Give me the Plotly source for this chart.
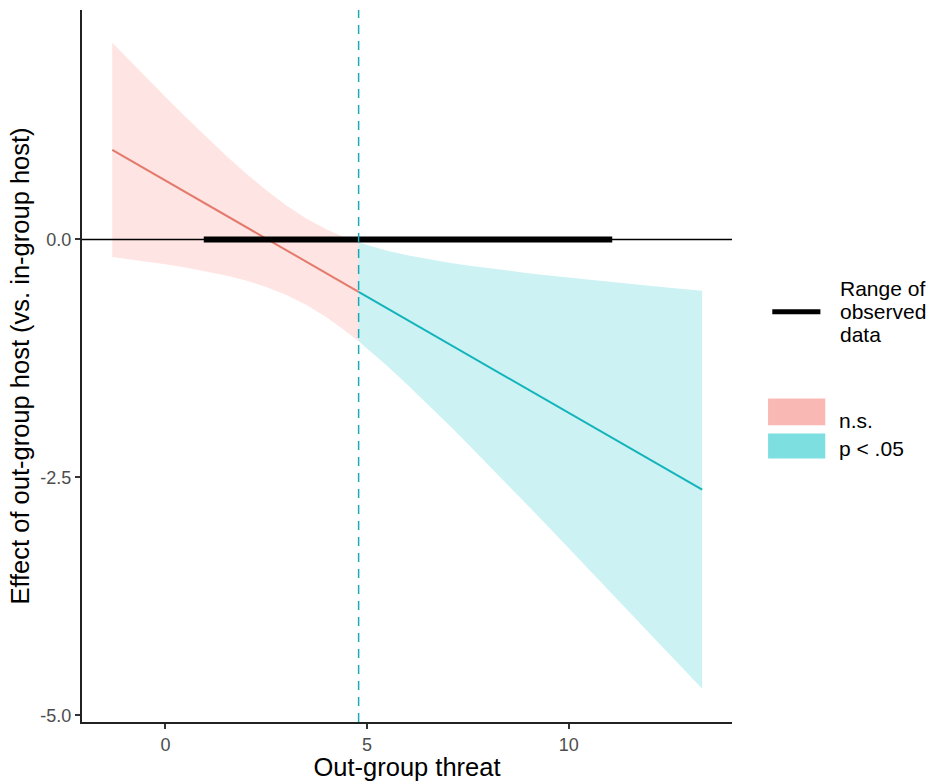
import plotly.graph_objects as go

# --- data ---
# non-significant region (n.s.)
ns_x     = [-1.32, -1.0, -0.5, 0.0, 0.5, 1.0, 1.5, 2.0, 2.5, 3.0, 3.5, 4.0, 4.4, 4.79]
ns_est   = [0.940, 0.862, 0.740, 0.618, 0.496, 0.374, 0.252, 0.130, 0.008, -0.114, -0.236, -0.358, -0.456, -0.551]
ns_lower = [-0.185, -0.202, -0.230, -0.261, -0.295, -0.333, -0.378, -0.433, -0.500, -0.584, -0.690, -0.820, -0.941, -1.070]
ns_upper = [2.065, 1.926, 1.710, 1.497, 1.287, 1.081, 0.882, 0.693, 0.516, 0.356, 0.218, 0.104, 0.029, -0.032]

# significant region (p < .05)
sig_x     = [4.79, 5.5, 6.0, 6.5, 7.0, 7.5, 8.0, 8.5, 9.0, 9.5, 10.0, 10.5, 11.0, 11.5, 12.0, 12.5, 13.31]
sig_est   = [-0.551, -0.724, -0.846, -0.968, -1.090, -1.212, -1.334, -1.456, -1.578, -1.700, -1.822, -1.944, -2.066, -2.188, -2.310, -2.432, -2.630]
sig_lower = [-1.070, -1.330, -1.526, -1.729, -1.938, -2.150, -2.365, -2.582, -2.801, -3.021, -3.242, -3.464, -3.686, -3.909, -4.133, -4.357, -4.720]
sig_upper = [-0.032, -0.118, -0.166, -0.207, -0.242, -0.274, -0.303, -0.330, -0.355, -0.379, -0.402, -0.424, -0.446, -0.467, -0.487, -0.507, -0.540]

jn_point = 4.79                 # Johnson-Neyman boundary
observed_range = [0.95, 11.08]  # range of observed moderator data
x_ticks = [0, 5, 10]
y_ticks = [-5.0, -2.5, 0.0]
y_tick_labels = ["-5.0", "-2.5", "0.0"]
x_range = [-2.07, 14.05]
y_range = [-5.07, 2.41]
legend_range_lines = ["Range of", "observed", "data"]
legend_sig_labels = ["n.s.", "p &lt; .05"]

FONT = "Liberation Sans, Arial, sans-serif"

fig = go.Figure()

# ribbons
fig.add_trace(go.Scatter(
    x=ns_x + ns_x[::-1], y=ns_upper + ns_lower[::-1],
    fill="toself", fillcolor="rgba(248,118,109,0.2)",
    line=dict(width=0), mode="lines", hoverinfo="skip", showlegend=False))
fig.add_trace(go.Scatter(
    x=sig_x + sig_x[::-1], y=sig_upper + sig_lower[::-1],
    fill="toself", fillcolor="rgba(0,191,196,0.2)",
    line=dict(width=0), mode="lines", hoverinfo="skip", showlegend=False))

# zero reference line
fig.add_trace(go.Scatter(
    x=x_range, y=[0, 0], mode="lines",
    line=dict(color="black", width=1.5), hoverinfo="skip", showlegend=False))

# estimate lines
fig.add_trace(go.Scatter(
    x=ns_x, y=ns_est, mode="lines",
    line=dict(color="#E47A6C", width=2), showlegend=False))
fig.add_trace(go.Scatter(
    x=sig_x, y=sig_est, mode="lines",
    line=dict(color="#13B4BB", width=2), showlegend=False))

# observed data range bar
fig.add_trace(go.Scatter(
    x=observed_range, y=[0, 0], mode="lines",
    line=dict(color="black", width=6), showlegend=False))

# Johnson-Neyman dashed line
fig.add_shape(type="line", xref="x", yref="paper", x0=jn_point, x1=jn_point,
              y0=0, y1=1, line=dict(color="#1AAAB5", width=1.5, dash="9px,7px"),
              layer="above")

# custom legend
fig.add_shape(type="line", xref="paper", yref="paper",
              x0=1.062, x1=1.136, y0=0.5762, y1=0.5762,
              line=dict(color="black", width=5))
for i, txt in enumerate(legend_range_lines):
    fig.add_annotation(xref="paper", yref="paper", x=1.163, y=0.6085 - i * 0.0323,
                       text=txt, showarrow=False,
                       xanchor="left", yanchor="middle", align="left",
                       font=dict(family=FONT, size=21, color="black"))
fig.add_shape(type="rect", xref="paper", yref="paper",
              x0=1.0555, x1=1.1435, y0=0.4169, y1=0.4545,
              fillcolor="#F9B8B4", line=dict(width=0))
fig.add_shape(type="rect", xref="paper", yref="paper",
              x0=1.0555, x1=1.1435, y0=0.3700, y1=0.4051,
              fillcolor="#7EDFE1", line=dict(width=0))
for txt, yy in zip(legend_sig_labels, [0.4239, 0.3843]):
    fig.add_annotation(xref="paper", yref="paper", x=1.1615, y=yy,
                       text=txt, showarrow=False, xanchor="left", yanchor="middle",
                       font=dict(family=FONT, size=21, color="black"))

fig.update_layout(
    width=926, height=781,
    margin=dict(l=82, r=194, t=10, b=59),
    paper_bgcolor="white", plot_bgcolor="white",
    font=dict(family=FONT),
    showlegend=False,
)
fig.update_xaxes(
    range=x_range, tickvals=x_ticks, ticks="outside", ticklen=5, tickwidth=1.5,
    tickcolor="#333333", showline=True, linecolor="#222222", linewidth=2,
    showgrid=False, zeroline=False, automargin=False,
    tickfont=dict(family=FONT, size=18, color="#4D4D4D"),
    title=dict(text="Out-group threat", font=dict(family=FONT, size=25.5, color="black"),
               standoff=7),
)
fig.update_yaxes(
    range=y_range, tickvals=y_ticks, ticktext=y_tick_labels, ticks="outside",
    ticklen=5, tickwidth=1.5, tickcolor="#333333", showline=True,
    linecolor="#222222", linewidth=2, showgrid=False, zeroline=False,
    automargin=False,
    tickfont=dict(family=FONT, size=18, color="#4D4D4D"),
    title=dict(text="Effect of out-group host (vs. in-group host)",
               font=dict(family=FONT, size=25.5, color="black"), standoff=3),
)

fig.write_html("out.html")
